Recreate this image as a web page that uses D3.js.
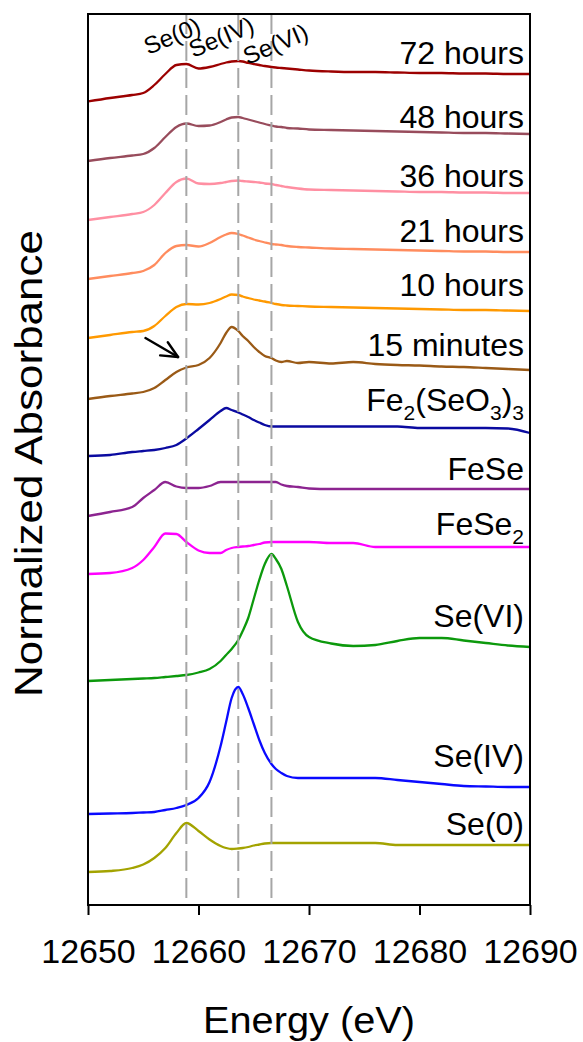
<!DOCTYPE html>
<html>
<head>
<meta charset="utf-8">
<script src="https://cdn.jsdelivr.net/npm/d3@7"></script>
<style>
  html, body { margin: 0; padding: 0; background: #fff; }
  svg { display: block; }
</style>
</head>
<body>
<svg id="chart" width="583" height="1042"></svg>
<script>
// ---- Se K-edge XANES spectra (energy grid shared by every spectrum) ----
const energy = [12650, 12652, 12654, 12655, 12656, 12657, 12658, 12658.9, 12660, 12661,
  12662, 12662.5, 12663, 12663.6, 12664, 12664.5, 12665, 12665.5, 12666, 12666.6,
  12667, 12667.5, 12668, 12669, 12670, 12672, 12674, 12676, 12678, 12680,
  12682, 12684, 12686, 12688, 12690];

const seriesNames = ["72 hours", "48 hours", "36 hours", "21 hours", "10 hours", "15 minutes",
  "Fe_2(SeO_3)_3", "FeSe", "FeSe_2", "Se(VI)", "Se(IV)", "Se(0)"];

// vertical stacking offset of each spectrum
const offsets = [80.35, 74.4, 68.5, 62.6, 56.7, 50.6, 44.9, 38.9, 33.1, 22.4, 9.1, 3.3];

// absorbance relative to each spectrum's offset
const abs72h = [0, 0.35, 0.65, 0.85, 1.65, 2.75, 3.65, 3.75, 3.3, 3.45, 3.75, 3.9, 4.0, 4.05, 4.0,
  3.85, 3.75, 3.65, 3.55, 3.45, 3.4, 3.35, 3.3, 3.2, 3.1, 3.0, 2.95, 2.95, 2.9, 2.85, 2.85, 2.8, 2.8, 2.75, 2.75];
const abs48h = [0, 0.3, 0.55, 0.7, 1.3, 2.4, 3.4, 3.75, 3.5, 3.55, 3.9, 4.15, 4.35, 4.4, 4.3,
  4.15, 4.0, 3.85, 3.7, 3.55, 3.45, 3.4, 3.3, 3.25, 3.15, 3.1, 3.05, 3.0, 2.95, 2.9, 2.85, 2.8, 2.8, 2.75, 2.7];
const abs36h = [0, 0.3, 0.6, 0.8, 1.5, 2.7, 3.8, 4.15, 3.65, 3.6, 3.7, 3.8, 3.9, 3.95, 3.9,
  3.85, 3.8, 3.75, 3.65, 3.6, 3.5, 3.4, 3.3, 3.15, 3.05, 3.0, 2.95, 2.9, 2.85, 2.8, 2.8, 2.75, 2.75, 2.7, 2.7];
const abs21h = [0, 0.3, 0.6, 0.8, 1.4, 2.6, 3.3, 3.4, 3.25, 3.6, 4.2, 4.45, 4.6, 4.5, 4.35,
  4.15, 3.95, 3.8, 3.65, 3.5, 3.45, 3.4, 3.3, 3.2, 3.15, 3.05, 3.0, 2.95, 2.9, 2.85, 2.8, 2.75, 2.75, 2.7, 2.7];
const abs10h = [0, 0.3, 0.6, 0.7, 1.2, 2.2, 3.1, 3.4, 3.35, 3.5, 3.9, 4.15, 4.35, 4.3, 4.15,
  4.0, 3.85, 3.75, 3.65, 3.5, 3.4, 3.3, 3.25, 3.2, 3.15, 3.1, 3.05, 3.0, 2.95, 2.9, 2.85, 2.8, 2.8, 2.75, 2.7];
const abs15min = [0, 0.3, 0.55, 0.7, 1.1, 1.9, 2.7, 3.15, 3.4, 4.1, 5.6, 6.6, 7.2, 6.8, 6.3,
  5.8, 5.2, 4.7, 4.3, 4.1, 3.85, 3.7, 3.8, 3.6, 3.7, 3.55, 3.7, 3.5, 3.4, 3.35, 3.25, 3.2, 3.1, 3.0, 2.9];
const absFeSeO3 = [0, 0.1, 0.4, 0.5, 0.6, 0.8, 1.1, 1.75, 2.7, 3.6, 4.5, 4.8, 4.6, 4.35, 4.15,
  3.9, 3.6, 3.35, 3.1, 2.95, 2.95, 2.95, 2.95, 2.95, 2.95, 2.95, 2.95, 2.95, 2.95, 2.8, 2.8, 2.8, 2.8, 2.75, 2.3];
const absFeSe = [0, 0.4, 0.9, 1.8, 2.6, 3.4, 2.95, 2.8, 2.8, 3.0, 3.4, 3.4, 3.4, 3.4, 3.4,
  3.4, 3.4, 3.4, 3.4, 3.4, 3.4, 3.15, 3.0, 2.9, 2.75, 2.7, 2.7, 2.7, 2.7, 2.7, 2.7, 2.7, 2.7, 2.7, 2.7];
const absFeSe2 = [0, 0.1, 0.6, 1.4, 2.7, 4.05, 4.0, 3.2, 2.35, 2.1, 2.1, 2.4, 2.6, 2.7, 2.75,
  2.8, 2.9, 3.0, 3.15, 3.2, 3.2, 3.2, 3.2, 3.2, 3.2, 3.1, 3.1, 2.7, 2.7, 2.7, 2.7, 2.7, 2.7, 2.7, 2.7];
const absSeVI = [0, 0.1, 0.2, 0.25, 0.3, 0.4, 0.5, 0.6, 0.85, 1.2, 2.0, 2.6, 3.2, 4.1, 5.0,
  6.3, 8.2, 10.1, 11.7, 12.7, 12.2, 11.2, 9.5, 5.9, 4.4, 3.75, 3.5, 3.6, 4.0, 4.3, 4.3, 4.05, 3.8, 3.55, 3.4];
const absSeIV = [0, 0.05, 0.1, 0.15, 0.2, 0.4, 0.6, 0.9, 1.6, 3.2, 6.8, 9.2, 11.6, 12.7, 12.0,
  10.6, 9.0, 7.4, 6.1, 5.0, 4.5, 4.1, 3.8, 3.6, 3.6, 3.6, 3.6, 3.6, 3.4, 3.2, 3.0, 2.8, 2.75, 2.7, 2.7];
const absSe0 = [0, 0.1, 0.4, 0.75, 1.4, 2.4, 3.9, 4.9, 4.1, 3.25, 2.6, 2.4, 2.3, 2.35, 2.4,
  2.5, 2.65, 2.75, 2.85, 2.9, 2.9, 2.9, 2.9, 2.9, 2.9, 2.9, 2.9, 2.9, 2.7, 2.7, 2.7, 2.7, 2.7, 2.7, 2.7];

const spectra = [abs72h, abs48h, abs36h, abs21h, abs10h, abs15min,
  absFeSeO3, absFeSe, absFeSe2, absSeVI, absSeIV, absSe0];

// reference edge positions of the Se oxidation states
const refEnergies = [12658.9, 12663.6, 12666.6];
const refNames = ["Se(0)", "Se(IV)", "Se(VI)"];

const tickValues = [12650, 12660, 12670, 12680, 12690];

// ---- styling / layout ----
const colors = ["#9c0000", "#984c5c", "#ff8fa2", "#ff8c5e", "#ff9900", "#9a5a16",
  "#0a0aa0", "#8c2490", "#ff00ff", "#0c990c", "#0a0aff", "#a3a300"];
const FONT = "'Liberation Sans', Arial, Helvetica, sans-serif";
const margin = { left: 88, right: 530, top: 14, bottom: 905 };
// baseline of each spectrum's name, in the units of the y scale
const labelLevel = [84.1, 77.7, 71.8, 66.3, 60.9, 54.9, 49.4, 42.5, 37.0, 27.8, 13.8, 7.0];
// start point (relative to the dashed line, px) of each rotated reference name
const refLabelPos = [[-38, 55], [-45, 58], [-24, 65]];

const svg = d3.select("#chart");

const x = d3.scaleLinear().domain([12650, 12690]).range([margin.left, margin.right]);
const y = d3.scaleLinear().domain([0, 89.1]).range([margin.bottom, margin.top]);

// spectra
const line = d3.line().curve(d3.curveMonotoneX).x(d => x(d[0])).y(d => y(d[1]));
spectra.forEach((vals, i) => {
  const pts = energy.map((e, j) => [e, offsets[i] + vals[j]]);
  svg.append("path")
    .datum(pts)
    .attr("d", line)
    .attr("fill", "none")
    .attr("stroke", colors[i])
    .attr("stroke-width", 2.3)
    .attr("stroke-linejoin", "round");
});

// dashed reference lines
refEnergies.forEach(e => {
  svg.append("line")
    .attr("x1", x(e)).attr("x2", x(e))
    .attr("y1", margin.top).attr("y2", margin.bottom)
    .attr("stroke", "#a6a6a6")
    .attr("stroke-width", 2)
    .attr("stroke-dasharray", "20,7");
});

// rotated names of the reference lines
refNames.forEach((name, i) => {
  const px = x(refEnergies[i]) + refLabelPos[i][0];
  const py = refLabelPos[i][1];
  svg.append("text")
    .attr("transform", `translate(${px},${py}) rotate(-23)`)
    .attr("font-family", FONT)
    .attr("font-size", 24)
    .attr("fill", "#000")
    .text(name);
});

// spectrum names, "_d" marks a subscript digit
seriesNames.forEach((name, i) => {
  const t = svg.append("text")
    .attr("x", 524)
    .attr("y", y(labelLevel[i]))
    .attr("text-anchor", "end")
    .attr("font-family", FONT)
    .attr("font-size", 32)
    .attr("fill", "#000");
  const parts = name.split(/(_\d)/).filter(s => s.length);
  let shifted = false;
  parts.forEach(p => {
    if (p.startsWith("_")) {
      t.append("tspan").attr("font-size", 21).attr("dy", 9).text(p.slice(1));
      shifted = true;
    } else {
      t.append("tspan").attr("dy", shifted ? -9 : 0).text(p);
      shifted = false;
    }
  });
});

// arrow pointing at the pre-edge shoulder of the 15 minute spectrum
const arrowTail = [12655.2, 56.7];
const arrowTip = [12658.15, 54.8];
{
  const x0 = x(arrowTail[0]), y0 = y(arrowTail[1]);
  const x1 = x(arrowTip[0]), y1 = y(arrowTip[1]);
  const ang = Math.atan2(y0 - y1, x0 - x1);
  const hl = 18, spread = 25 * Math.PI / 180;
  const g = svg.append("g").attr("stroke", "#000").attr("stroke-width", 2.4)
    .attr("fill", "none").attr("stroke-linecap", "round");
  g.append("line").attr("x1", x0).attr("y1", y0).attr("x2", x1).attr("y2", y1);
  [ang - spread, ang + spread].forEach(a => {
    g.append("line").attr("x1", x1).attr("y1", y1)
      .attr("x2", x1 + hl * Math.cos(a)).attr("y2", y1 + hl * Math.sin(a));
  });
}

// bottom axis
svg.append("g")
  .attr("transform", `translate(0,${margin.bottom})`)
  .call(d3.axisBottom(x).tickValues(tickValues).tickFormat(d => String(d))
    .tickSize(10).tickPadding(24))
  .attr("font-family", FONT)
  .attr("font-size", 34)
  .call(g => g.select(".domain").remove())
  .call(g => g.selectAll(".tick line").attr("stroke", "#000").attr("stroke-width", 2))
  .call(g => g.selectAll(".tick text").attr("fill", "#000"));

// plot frame
svg.append("rect")
  .attr("x", margin.left).attr("y", margin.top)
  .attr("width", margin.right - margin.left)
  .attr("height", margin.bottom - margin.top)
  .attr("fill", "none")
  .attr("stroke", "#000")
  .attr("stroke-width", 2);

// axis titles
svg.append("text")
  .attr("x", 309).attr("y", 1033)
  .attr("text-anchor", "middle")
  .attr("font-family", FONT)
  .attr("font-size", 36)
  .attr("textLength", 212)
  .attr("lengthAdjust", "spacingAndGlyphs")
  .attr("fill", "#000")
  .text("Energy (eV)");

svg.append("text")
  .attr("transform", "translate(42,463.5) rotate(-90)")
  .attr("text-anchor", "middle")
  .attr("font-family", FONT)
  .attr("font-size", 39)
  .attr("textLength", 467)
  .attr("lengthAdjust", "spacingAndGlyphs")
  .attr("fill", "#000")
  .text("Normalized Absorbance");
</script>
</body>
</html>
